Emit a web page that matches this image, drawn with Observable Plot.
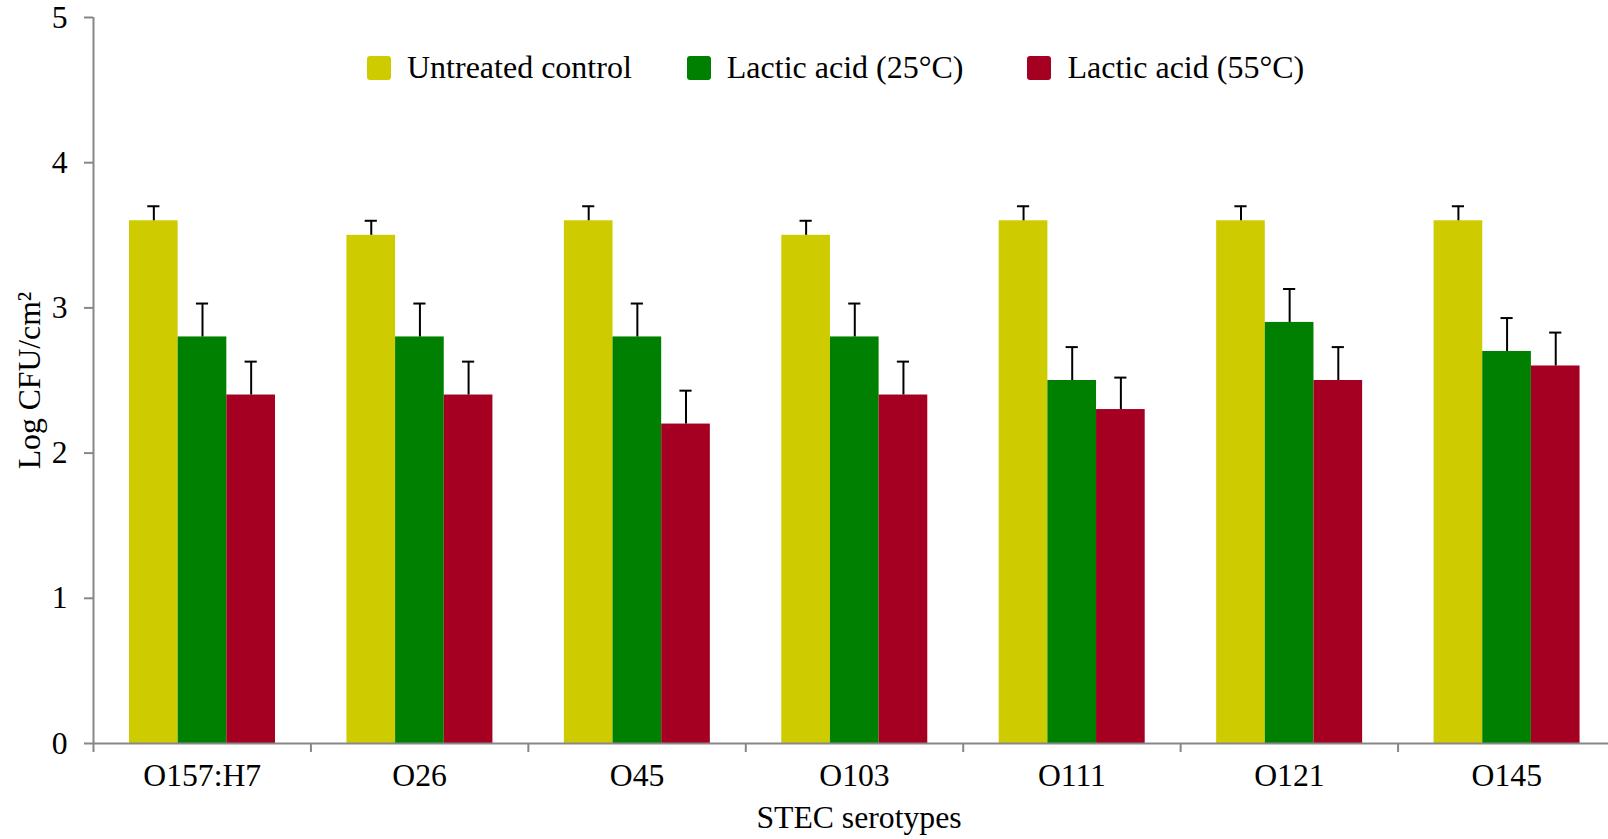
<!DOCTYPE html>
<html>
<head>
<meta charset="utf-8">
<script src="https://cdn.jsdelivr.net/npm/d3@7"></script>
<script src="https://cdn.jsdelivr.net/npm/@observablehq/plot@0.6"></script>
<style>
  html, body { margin: 0; padding: 0; background: #fff; overflow: hidden; }
  #wrap { position: relative; width: 1608px; height: 839px; font-family: "Liberation Serif", "Times New Roman", serif; }
  #legend { position: absolute; left: 367px; top: 49px; display: flex; align-items: center; font-size: 32px; color: #000; white-space: nowrap; }
  .item { display: flex; align-items: center; }
  .item:nth-child(1) { margin-right: 55px; }
  .item:nth-child(2) { margin-right: 64px; }
  .sw { width: 24px; height: 24px; border-radius: 3px; margin-right: 16px; }
</style>
</head>
<body>
<div id="wrap"><div id="legend"></div></div>
<script>
const categories = ["O157:H7", "O26", "O45", "O103", "O111", "O121", "O145"];
const seriesNames = ["Untreated control", "Lactic acid (25°C)", "Lactic acid (55°C)"];
const seriesColors = ["#CECC00", "#008000", "#A50022"];
const control = [3.6, 3.5, 3.6, 3.5, 3.6, 3.6, 3.6];
const lactic25 = [2.8, 2.8, 2.8, 2.8, 2.5, 2.9, 2.7];
const lactic55 = [2.4, 2.4, 2.2, 2.4, 2.3, 2.5, 2.6];
const errControl = [0.1, 0.1, 0.1, 0.1, 0.1, 0.1, 0.1];
const err25 = [0.23, 0.23, 0.23, 0.23, 0.23, 0.23, 0.23];
const err55 = [0.23, 0.23, 0.23, 0.23, 0.22, 0.23, 0.23];
const yTicks = [0, 1, 2, 3, 4, 5];

const values = [control, lactic25, lactic55];
const errors = [errControl, err25, err55];

// layout within each category band (fractions of a band)
const groupPad = 0.1656, barW = 0.2238, capHalf = 0.028;

const rows = [];
categories.forEach((c, i) => {
  seriesNames.forEach((s, j) => {
    const x1 = i + groupPad + j * barW;
    rows.push({cat: c, series: s, value: values[j][i], err: errors[j][i],
      x1, x2: x1 + barW, xc: x1 + barW / 2});
  });
});

const catCenters = categories.map((c, i) => i + 0.5);
const boundaries = categories.map((c, i) => i);

const gray = "#878787";
const chart = Plot.plot({
  width: 1608,
  height: 839,
  marginLeft: 93,
  marginRight: 0,
  marginTop: 17,
  marginBottom: 96,
  style: {fontFamily: "'Liberation Serif', 'Times New Roman', serif", fontSize: "31.7px", color: "#000", background: "#fff"},
  x: {domain: [0, 7], range: [93, 1615]},
  y: {domain: [0, 5], range: [743, 17]},
  color: {domain: seriesNames, range: seriesColors},
  marks: [
    Plot.rectY(rows, {x1: "x1", x2: "x2", y1: 0, y2: "value", fill: "series"}),
    Plot.ruleX(rows, {x: "xc", y1: "value", y2: d => d.value + d.err, stroke: "#000", strokeWidth: 2}),
    Plot.ruleY(rows, {y: d => d.value + d.err, x1: d => d.xc - capHalf, x2: d => d.xc + capHalf, stroke: "#000", strokeWidth: 2}),
    Plot.axisY({ticks: yTicks, tickFormat: "d", tickSize: 9, tickPadding: 17, stroke: gray, strokeWidth: 2, fill: "#000",
      label: "Log CFU/cm²", labelAnchor: "center", labelArrow: "none", labelOffset: 76}),
    Plot.axisX({ticks: catCenters, tickFormat: d => categories[Math.floor(d)], tickSize: 0, tickPadding: 20, fill: "#000", label: null}),
    Plot.axisX({ticks: boundaries, tickFormat: () => "", tickSize: 9, stroke: gray, strokeWidth: 2, label: null}),
    Plot.text(["STEC serotypes"], {frameAnchor: "bottom", dy: 84, dx: 8, fill: "#000"}),
    Plot.ruleX([0], {y1: 0, y2: 5, stroke: gray, strokeWidth: 2}),
    Plot.ruleY([0], {stroke: gray, strokeWidth: 2})
  ]
});
document.getElementById("wrap").prepend(chart);

const legend = document.getElementById("legend");
seriesNames.forEach((s, j) => {
  const item = document.createElement("div");
  item.className = "item";
  const sw = document.createElement("div");
  sw.className = "sw";
  sw.style.background = seriesColors[j];
  const t = document.createElement("span");
  t.textContent = s;
  item.appendChild(sw);
  item.appendChild(t);
  legend.appendChild(item);
});
</script>
</body>
</html>
